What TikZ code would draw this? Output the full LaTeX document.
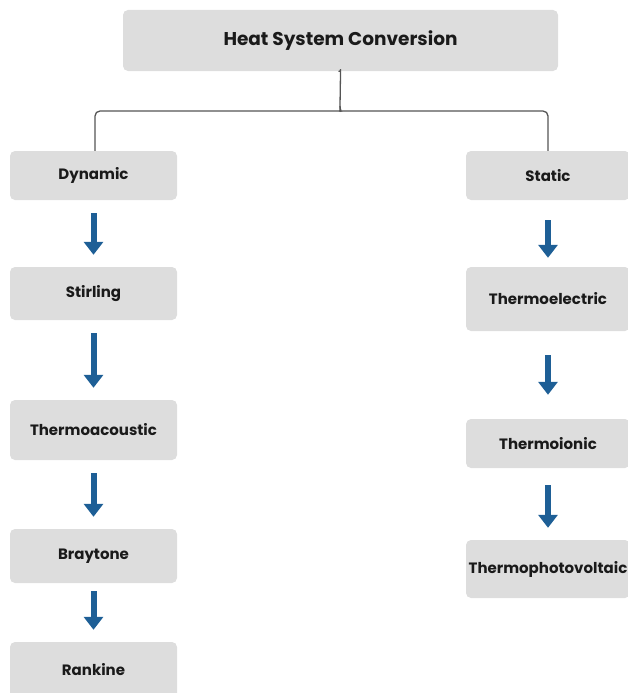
\documentclass[tikz,border=0pt]{standalone}
\usepackage{fontspec}
\setmainfont{Poppins}
\usetikzlibrary{arrows.meta}
\definecolor{boxgray}{HTML}{DDDDDD}
\definecolor{arrowblue}{HTML}{1E5F96}
\definecolor{linegray}{HTML}{555555}
\definecolor{txt}{HTML}{1A1A1A}
\tikzset{
  box/.style={fill=boxgray, rounded corners=5pt, inner sep=0pt, text=txt,
    font=\fontsize{15}{17}\selectfont\bfseries},
  lbox/.style={box, minimum width=167pt},
  rbox/.style={box, minimum width=164pt},
  flow/.style={draw=arrowblue, line width=6pt,
    -{Triangle[width=19pt,length=13pt]}, shorten <=13pt, shorten >=12pt},
  tree/.style={draw=linegray, line width=1.3pt, rounded corners=5pt}
}
\begin{document}
\begin{tikzpicture}[x=1pt,y=-1pt]
\useasboundingbox (0,0) rectangle (628,693);
\node[box, minimum width=435pt, minimum height=61pt, font=\fontsize{18.5}{20}\selectfont\bfseries] (top) at (340.5,40.5) {Heat System Conversion};
% left column
\node[lbox, minimum height=49pt] (dyn) at (93.5,175.5) {Dynamic};
\node[lbox, minimum height=53pt] (sti) at (93.5,293.5) {Stirling};
\node[lbox, minimum height=60pt] (tac) at (93.5,430) {Thermoacoustic};
\node[lbox, minimum height=54pt] (bra) at (93.5,556) {Braytone};
\node[lbox, minimum height=56pt] (ran) at (93.5,670) {Rankine};
% right column
\node[rbox, minimum height=49pt] (sta) at (548,175.5) {Static};
\node[rbox, minimum height=64pt] (tel) at (548,299) {Thermoelectric};
\node[rbox, minimum height=49pt] (tio) at (548,443.5) {Thermoionic};
\node[rbox, minimum height=58pt] (tpv) at (548,569) {Thermophotovoltaic};
% flow arrows
\draw[flow] (dyn.south) -- (sti.north);
\draw[flow] (sti.south) -- (tac.north);
\draw[flow] (tac.south) -- (bra.north);
\draw[flow, shorten <=8pt] (bra.south) -- (ran.north);
\draw[flow, shorten <=20pt, shorten >=9pt] (sta.south) -- (tel.north);
\draw[flow, shorten <=24pt, shorten >=24pt] (tel.south) -- (tio.north);
\draw[flow, shorten <=17pt] (tio.south) -- (tpv.north);
% tree connector (brace)
\coordinate (bt) at (340,106);
\draw[tree] (top.south) ++(-2,0) .. controls +(2,0) and +(0,-2) .. ++(2,3) -- (bt)
  .. controls +(0,4) and +(3,0) .. ++(-5,5) -- (95,111) -- (dyn.north -| 95,0);
\draw[tree] (bt) .. controls +(0,4) and +(-3,0) .. ++(5,5) -- (548,111) -- (sta.north);
\end{tikzpicture}
\end{document}
